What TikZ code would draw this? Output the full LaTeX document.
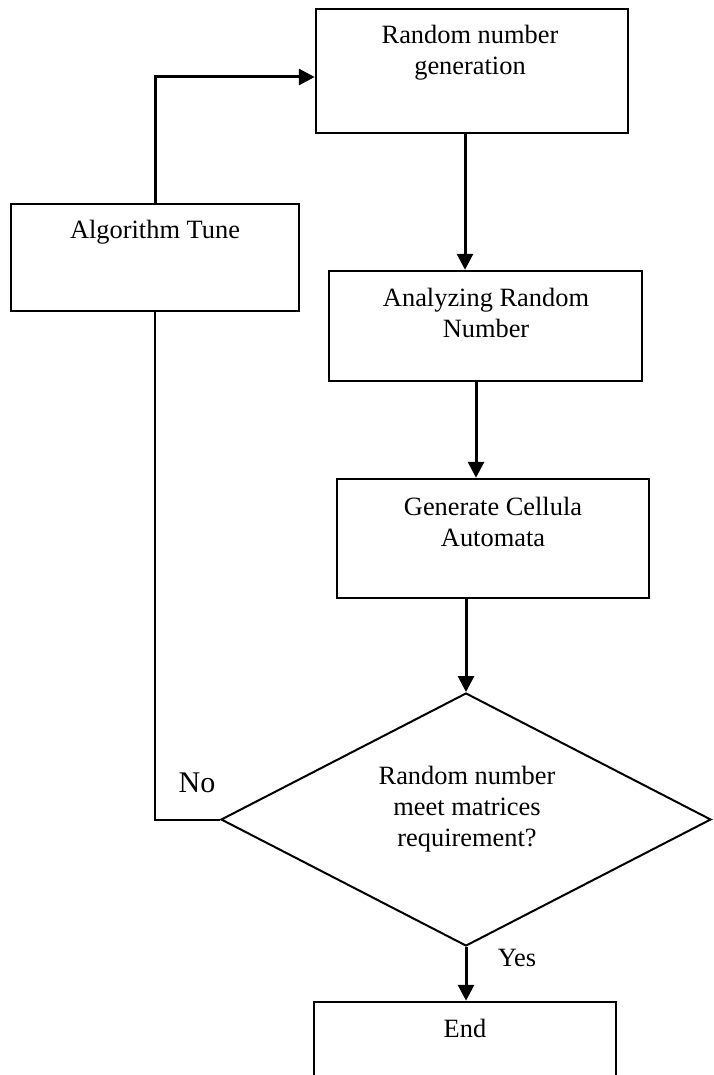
\documentclass[tikz,border=0pt]{standalone}
\usepackage{fontspec}
\setmainfont{Liberation Serif}
\usetikzlibrary{arrows.meta,shapes.geometric}
\begin{document}
\begin{tikzpicture}[x=1pt,y=-1pt,
  box/.style={draw, line width=2.5pt, inner sep=0pt, rectangle},
  txt/.style={align=center, font=\fontsize{26.4}{31}\selectfont, inner sep=0pt},
  arr/.style={line width=3pt, -{Triangle[length=16pt,width=16pt]}},
  thinline/.style={line width=2pt}]
\useasboundingbox (0,0) rectangle (713,1075);
\clip (0,0) rectangle (713,1075);
% boxes
\node[box, minimum width=312pt, minimum height=124pt] (rng) at (472,71) {};
\node[txt] (rngT) at (470,53) {Random number\\generation};
\node[box, minimum width=288pt, minimum height=107pt] (alg) at (155,257.5) {};
\node[txt] (algT) at (155,232) {Algorithm Tune};
\node[box, minimum width=313pt, minimum height=110pt] (ana) at (485.5,326) {};
\node[txt] (anaT) at (486,313) {Analyzing Random\\Number};
\node[box, minimum width=312pt, minimum height=119pt] (gen) at (493,538.5) {};
\node[txt] (genT) at (493,521.5) {Generate Cellula\\Automata};
\node[diamond, draw, line width=2pt, minimum width=490pt, minimum height=253pt, inner sep=0pt] (dec) at (466,819.5) {};
\node[txt] (decT) at (467,809) {Random number\\meet matrices\\requirement?};
\node[box, minimum width=302pt, minimum height=150pt] (end) at (465,1077) {};
\node[txt] (endT) at (465,1028) {End};
% labels
\node[txt, font=\fontsize{30}{34}\selectfont] (no) at (197,783) {No};
\node[txt] (yes) at (517,958) {Yes};
% connectors
\draw[arr] (alg.north) |- ([yshift=-6pt]rng.west);
\draw[arr] ([xshift=-7pt]rng.south) -- ([xshift=-7pt]rng.south |- ana.north);
\draw[arr] ([xshift=-9.5pt]ana.south) -- ([xshift=-9.5pt]ana.south |- gen.north);
\draw[arr] (dec.north |- gen.south) -- (dec.north);
\draw[arr] (dec.south) -- (dec.south |- end.north);
\draw[thinline] (dec.west) -| (alg.south);
\end{tikzpicture}
\end{document}
